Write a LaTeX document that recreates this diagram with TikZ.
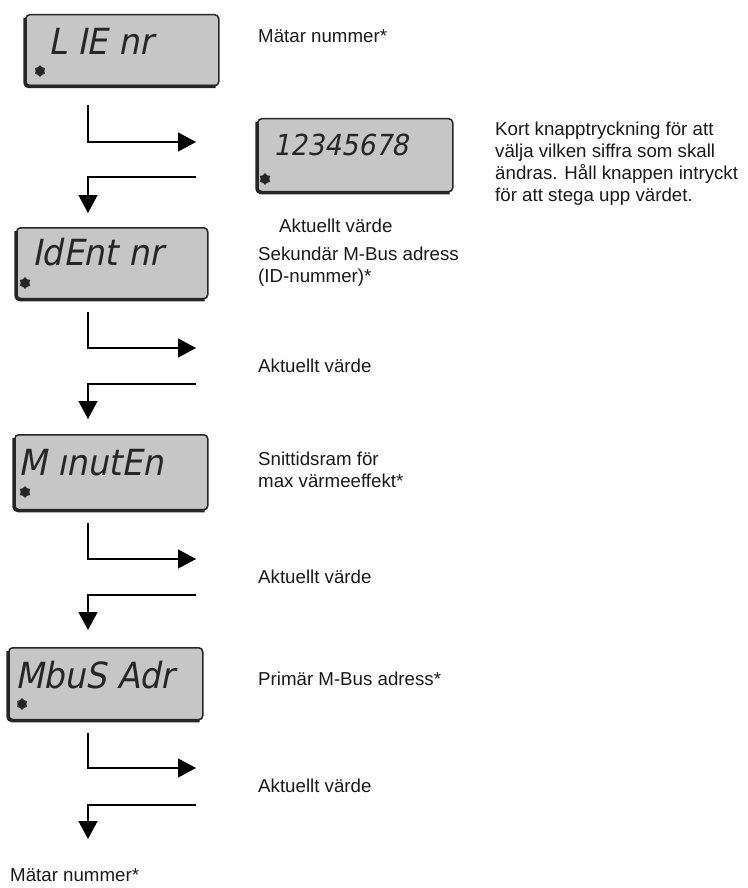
\documentclass[tikz,border=0pt]{standalone}
\usepackage{fontspec}
\setmainfont{Liberation Sans}
\newfontfamily\lcdfont{DejaVu Sans}[FakeSlant=0.2,FakeStretch=0.92]
\usetikzlibrary{arrows.meta,shapes.geometric}
\definecolor{lcdgray}{RGB}{198,198,198}
\definecolor{lcdline}{RGB}{38,38,38}
\definecolor{txt}{RGB}{25,25,25}
\begin{document}
\begin{tikzpicture}[x=1pt,y=-1pt,
  lcdbox/.style={draw=lcdline, fill=lcdgray, line width=1.5pt, rounded corners=4pt, inner sep=0, anchor=north west},
  heavy/.style={draw=lcdline, line width=3.5pt, rounded corners=4pt},
  lcdtext/.style={font=\lcdfont\fontsize{36}{36}\selectfont, anchor=base west, inner sep=0, text=lcdline},
  lbl/.style={font=\fontsize{18.7}{22}\selectfont, anchor=base west, inner sep=0, text=txt},
  para/.style={font=\fontsize{18.7}{22}\selectfont, anchor=north west, inner sep=0, align=left, text=txt},
  flow/.style={line width=1.3pt, draw=black, -{Triangle[length=18pt,width=19pt]}},
  snow/.style={star, star points=6, star point ratio=1.4, fill=lcdline, inner sep=0, minimum size=12pt},
]
\path[use as bounding box] (0,0) rectangle (747,888);

% ---------- LCD boxes ----------
\node[lcdbox, minimum width=193pt, minimum height=71pt] (b1) at (25,14) {};
\draw[heavy] ([yshift=-4pt]b1.north west) -- (b1.south west) -- ([xshift=-4pt]b1.south east);
\node[lcdtext] (t1) at (48,55) {L IE nr};
\node[snow] (s1) at (40,71) {};

\node[lcdbox, minimum width=195pt, minimum height=73pt] (d1) at (257,118) {};
\draw[heavy] ([yshift=-4pt]d1.north west) -- (d1.south west) -- ([xshift=-4pt]d1.south east);
\node[lcdtext, font=\lcdfont\fontsize{29}{29}\selectfont] (td) at (273,155) {12345678};
\node[snow] (sd) at (265,179) {};

\node[lcdbox, minimum width=191pt, minimum height=71pt] (b2) at (16,227) {};
\draw[heavy] ([yshift=-4pt]b2.north west) -- (b2.south west) -- ([xshift=-4pt]b2.south east);
\node[lcdtext] (t2) at (32,265) {IdEnt nr};
\node[snow] (s2) at (25,283) {};

\node[lcdbox, minimum width=193pt, minimum height=75pt] (b3) at (14,434) {};
\draw[heavy] ([yshift=-4pt]b3.north west) -- (b3.south west) -- ([xshift=-4pt]b3.south east);
\node[lcdtext] (t3) at (18,475) {M ınutEn};
\node[snow] (s3) at (25,492) {};

\node[lcdbox, minimum width=194pt, minimum height=72pt] (b4) at (8,647) {};
\draw[heavy] ([yshift=-4pt]b4.north west) -- (b4.south west) -- ([xshift=-4pt]b4.south east);
\node[lcdtext] (t4) at (15,688) {MbuS Adr};
\node[snow] (s4) at (22,704) {};

% ---------- connectors ----------
\coordinate (a1) at (88,105);  \coordinate (a1e) at (196,142);
\coordinate (r1) at (196,177); \coordinate (r1e) at (88,213);
\coordinate (a2) at (88,312);  \coordinate (a2e) at (196,348);
\coordinate (r2) at (196,384); \coordinate (r2e) at (88,419);
\coordinate (a3) at (88,523);  \coordinate (a3e) at (196,559);
\coordinate (r3) at (196,595); \coordinate (r3e) at (88,630);
\coordinate (a4) at (88,733);  \coordinate (a4e) at (196,768);
\coordinate (r4) at (196,805); \coordinate (r4e) at (88,839);
\draw[flow] (a1) |- (a1e);
\draw[flow] (r1) -| (r1e);
\draw[flow] (a2) |- (a2e);
\draw[flow] (r2) -| (r2e);
\draw[flow] (a3) |- (a3e);
\draw[flow] (r3) -| (r3e);
\draw[flow] (a4) |- (a4e);
\draw[flow] (r4) -| (r4e);

% ---------- labels ----------
\node[lbl] (l1) at (258,43) {Mätar nummer*};
\node[lbl] (ld) at (279,232) {Aktuellt värde};
\node[para] (p1) at (495,121.5) {Kort knapptryckning för att\\välja vilken siffra som skall\\ändras. Håll knappen intryckt\\för att stega upp värdet.};
\node[para] (l2) at (258,246.5) {Sekundär M-Bus adress\\(ID-nummer)*};
\node[lbl] (v2) at (258,372) {Aktuellt värde};
\node[para] (l3) at (258,451.5) {Snittidsram för\\max värmeeffekt*};
\node[lbl] (v3) at (258,583) {Aktuellt värde};
\node[lbl] (l4) at (258,685) {Primär M-Bus adress*};
\node[lbl] (v4) at (258,792) {Aktuellt värde};
\node[lbl] (l5) at (10,881) {Mätar nummer*};
\end{tikzpicture}
\end{document}
